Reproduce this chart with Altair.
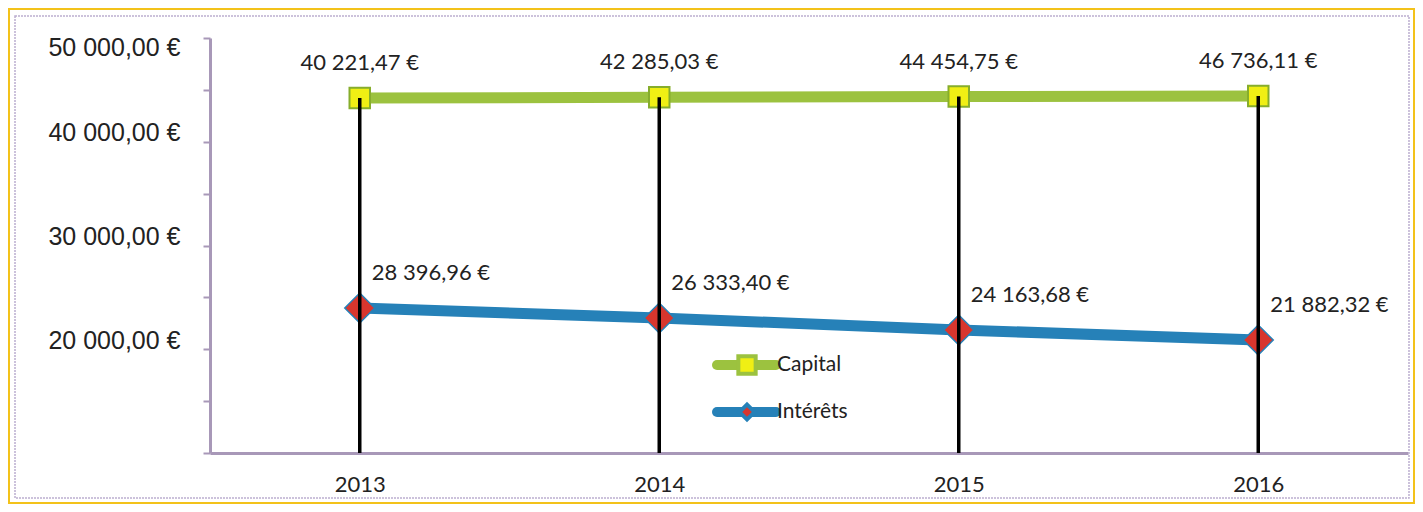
import altair as alt
import pandas as pd

# ---- data ----
years = ["2013", "2014", "2015", "2016"]
series_names = ["Capital", "Intérêts"]
capital_plot = [44220, 44280, 44350, 44410]          # plotted heights
interets_plot = [23980, 23010, 21860, 20890]
capital_labels = ["40 221,47 €", "42 285,03 €", "44 454,75 €", "46 736,11 €"]
interets_labels = ["28 396,96 €", "26 333,40 €", "24 163,68 €", "21 882,32 €"]
y_ticks = [10000, 15000, 20000, 25000, 30000, 35000, 40000, 45000, 50000]
y_label_values = [20000, 30000, 40000, 50000]
y_label_texts = ["20 000,00 €", "30 000,00 €", "40 000,00 €", "50 000,00 €"]

GREEN = "#9cc23f"
GREEN_DARK = "#86ad2c"
BLUE = "#2681b8"
YELLOW = "#f0ef14"
RED = "#d8362e"
AXIS = "#a898b8"
TEXT = "#222222"

rows = []
for i, y in enumerate(years):
    rows.append({"year": y, "series": series_names[0], "value": capital_plot[i], "label": capital_labels[i]})
    rows.append({"year": y, "series": series_names[1], "value": interets_plot[i], "label": interets_labels[i]})
df = pd.DataFrame(rows)

label_expr = " : ".join(
    f"datum.value == {v} ? '{t}'" for v, t in zip(y_label_values, y_label_texts)
) + " : ''"

x_enc = alt.X(
    "year:O",
    scale=alt.Scale(type="point", padding=0.5),
    axis=alt.Axis(
        title=None, labelAngle=0, ticks=False, domainColor=AXIS, domainWidth=3,
        labelFont="Lato", labelFontSize=22, labelColor=TEXT, labelPadding=21,
    ),
)
y_enc = alt.Y(
    "value:Q",
    scale=alt.Scale(domain=[10000, 50000], nice=False, zero=False),
    axis=alt.Axis(
        title=None, values=y_ticks, labelExpr=label_expr, grid=False,
        tickColor=AXIS, tickSize=7, tickWidth=2, domainColor=AXIS, domainWidth=3,
        labelFont="Liberation Sans", labelFontSize=25, labelColor=TEXT,
        labelPadding=23, labelFlush=False,
        labelOffset={"condition": {"test": "datum.value == 50000", "value": 9}, "value": -9},
    ),
)

base = alt.Chart(df)

lines = base.mark_line(strokeWidth=11, strokeCap="butt").encode(
    x=x_enc, y=y_enc,
    color=alt.Color("series:N", scale=alt.Scale(domain=series_names, range=[GREEN, BLUE]), legend=None),
)

cap_pts = base.transform_filter(alt.datum.series == series_names[0]).mark_point(
    shape="square", filled=True, fill=YELLOW, stroke=GREEN_DARK, strokeWidth=2, size=420, opacity=1
).encode(x=x_enc, y=y_enc)

int_pts = base.transform_filter(alt.datum.series == series_names[1]).mark_point(
    shape="diamond", filled=True, fill=RED, stroke=BLUE, strokeWidth=1.5, size=900, opacity=1
).encode(x=x_enc, y=y_enc)

drops = base.transform_filter(alt.datum.series == series_names[0]).mark_rule(
    color="black", strokeWidth=3.5
).encode(x=x_enc, y=y_enc, y2=alt.datum(10000))

cap_text = base.transform_filter(alt.datum.series == series_names[0]).mark_text(
    align="center", baseline="middle", dy=-35, font="Lato", fontSize=22, color=TEXT
).encode(x=x_enc, y=y_enc, text="label:N")

int_text = base.transform_filter(alt.datum.series == series_names[1]).mark_text(
    align="left", baseline="middle", dx=12, dy=-35, font="Lato", fontSize=22, color=TEXT
).encode(x=x_enc, y=y_enc, text="label:N")

one = alt.Data(values=[{}])

# custom legend inside the plot
leg = []
for name, ly, lcol in [(series_names[0], 327, GREEN), (series_names[1], 374, BLUE)]:
    leg.append(alt.Chart(one).mark_rule(strokeWidth=10, color=lcol, strokeCap="round").encode(
        x=alt.value(507), x2=alt.value(566), y=alt.value(ly)))
    leg.append(alt.Chart(one).mark_text(align="left", baseline="middle", font="Lato",
                                        fontSize=21, color=TEXT).encode(
        x=alt.value(567), y=alt.value(ly), text=alt.value(name)))
leg.append(alt.Chart(one).mark_point(shape="square", filled=True, fill=YELLOW, stroke=GREEN,
                                     strokeWidth=4, size=300, opacity=1).encode(
    x=alt.value(537), y=alt.value(327)))
leg.append(alt.Chart(one).mark_point(shape="diamond", filled=True, fill=BLUE, size=420, opacity=1).encode(
    x=alt.value(537), y=alt.value(374)))
leg.append(alt.Chart(one).mark_point(shape="diamond", filled=True, fill=RED, size=90, opacity=1).encode(
    x=alt.value(537), y=alt.value(374)))

# frames
orange = alt.Chart(one).mark_rect(fillOpacity=0, stroke="#f3c21a", strokeWidth=2).encode(
    x=alt.value(-201), x2=alt.value(1204), y=alt.value(-29), y2=alt.value(465))
purple = alt.Chart(one).mark_rect(fillOpacity=0, stroke="#bcaed0", strokeWidth=1.5,
                                  strokeDash=[2, 1]).encode(
    x=alt.value(-195), x2=alt.value(1199), y=alt.value(-22), y2=alt.value(460))

chart = alt.layer(
    orange, purple, lines, cap_pts, int_pts, drops, cap_text, int_text, *leg
).properties(
    width=1198, height=415,
    autosize=alt.AutoSizeParams(type="none"),
    padding={"left": 202, "top": 30, "right": 7, "bottom": 51},
    background="white",
).configure_view(stroke=None)

chart.save("out.html", embed_options={"renderer": "svg", "actions": False})
